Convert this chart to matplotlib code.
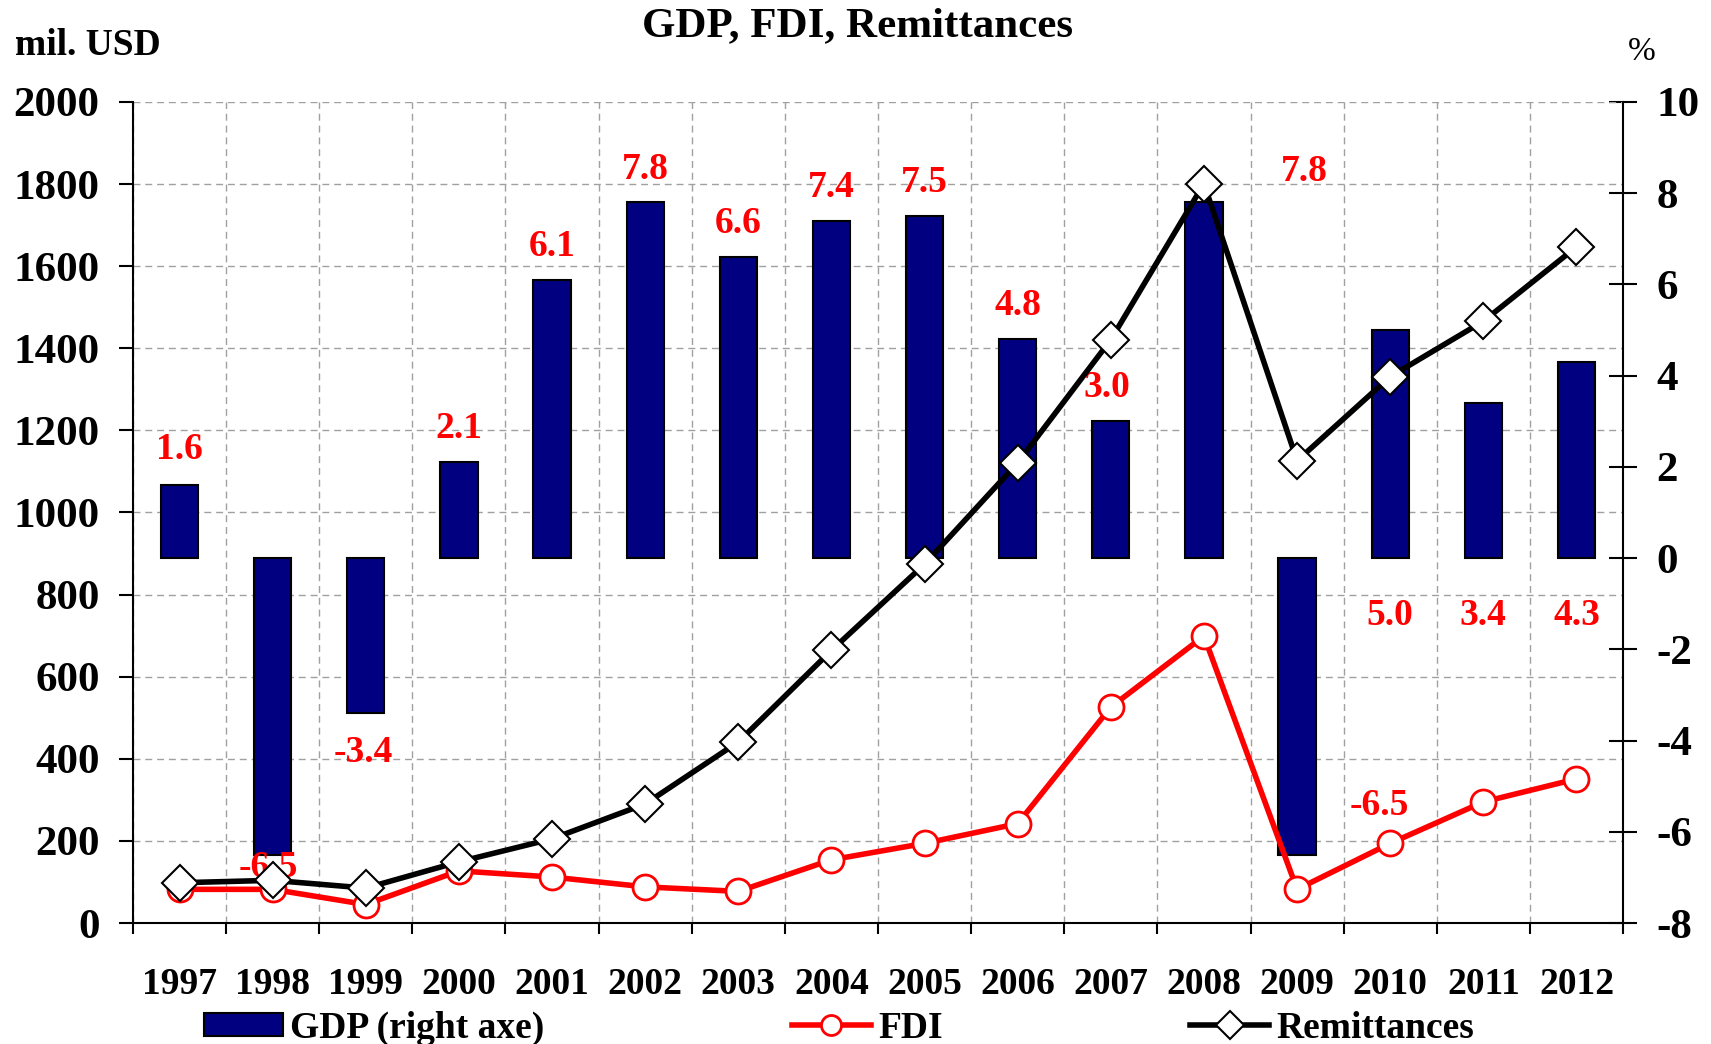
import numpy as np
import matplotlib
matplotlib.use('Agg')
import matplotlib.pyplot as plt

plt.rcParams['font.family'] = ['Liberation Serif', 'DejaVu Serif']
plt.rcParams['font.weight'] = 'bold'
plt.rcParams['axes.unicode_minus'] = False

# data
years = ['1997', '1998', '1999', '2000', '2001', '2002', '2003', '2004',
         '2005', '2006', '2007', '2008', '2009', '2010', '2011', '2012']
gdp_growth = [1.6, -6.5, -3.4, 2.1, 6.1, 7.8, 6.6, 7.4, 7.5, 4.8, 3.0, 7.8, -6.5, 5.0, 3.4, 4.3]
fdi = [82, 82, 45, 127, 112, 88, 77, 154, 194, 242, 526, 699, 82, 194, 295, 351]
remittances = [98, 104, 85, 149, 205, 290, 441, 664, 874, 1121, 1421, 1801, 1126, 1331, 1466, 1647]

# where the red gdp labels sit (offset in points from bar end, or from zero line)
label_offsets = [(0, 26), (-3, -9), (-2, -28), (0, 24), (0, 24), (0, 24), (0, 24), (0, 24),
                 (0, 24), (0, 24), (-3, 24), (72, 22), (59, 35), (0, -41), (0, -41), (0, -41)]
label_at_base = [False] * 13 + [True] * 3

grid_kw = dict(color='#a0a0a0', linestyle=(0, (5, 3.5)), linewidth=1.0)

fig = plt.figure(figsize=(17.11, 10.44), dpi=100)
ax_r = fig.add_axes([0.0777, 0.1159, 0.9486 - 0.0777, 0.9023 - 0.1159])
ax_l = ax_r.twinx()

x = np.arange(len(years))

# GDP bars on the right (%) axis
bars = ax_r.bar(x, gdp_growth, width=0.4, color='#000080', edgecolor='black',
                linewidth=1.5, zorder=2, label='GDP (right axe)')
ax_r.set_xlim(-0.5, len(years) - 0.5)
ax_r.set_ylim(-8, 10)
ax_r.yaxis.tick_right()
ax_r.set_yticks(np.arange(-8, 11, 2))
ax_r.tick_params(axis='y', which='major', direction='inout', length=20, width=1.5,
                 pad=14, labelsize=31)

# horizontal grid follows the left (mil. USD) scale
left_ticks = np.arange(0, 2001, 200)
ax_r.yaxis.remove_overlapping_locs = False
ax_r.set_yticks(-8 + left_ticks * 18 / 2000, minor=True)
ax_r.tick_params(axis='y', which='minor', length=0)
ax_r.grid(axis='y', which='minor', **grid_kw)

ax_r.set_xticks(x)
ax_r.set_xticklabels(years)
ax_r.set_xticks(np.arange(-0.5, len(years)), minor=True)
ax_r.tick_params(axis='x', which='major', length=0, pad=32, labelsize=27)
ax_r.tick_params(axis='x', which='minor', direction='out', length=8, width=1.5)
ax_r.grid(axis='x', which='minor', **grid_kw)
ax_r.set_axisbelow(True)

for s in ['top', 'left']:
    ax_r.spines[s].set_visible(False)
ax_r.spines['right'].set_linewidth(1.5)
ax_r.spines['bottom'].set_linewidth(1.5)

# value labels
for i, v in enumerate(gdp_growth):
    anchor = 0 if label_at_base[i] else v
    ax_r.annotate(f'{v:.1f}', xy=(i, anchor), xytext=label_offsets[i],
                  textcoords='offset points', ha='center', va='center',
                  color='#ff0000', fontsize=27, fontweight='bold', zorder=3)

# FDI and remittances on the left (mil. USD) axis
fdi_line, = ax_l.plot(x, fdi, color='#ff0000', linewidth=4, marker='o', markersize=18,
                      markerfacecolor='white', markeredgecolor='#ff0000', markeredgewidth=2,
                      label='FDI', zorder=3)
rem_line, = ax_l.plot(x, remittances, color='black', linewidth=4, marker='D', markersize=18,
                      markerfacecolor='white', markeredgecolor='black', markeredgewidth=1.5,
                      label='Remittances', zorder=4)
ax_l.set_ylim(0, 2000)
ax_l.yaxis.tick_left()
ax_l.set_yticks(left_ticks)
ax_l.tick_params(axis='y', direction='out', length=10, width=1.5, pad=14, labelsize=31)
for s in ['top', 'right', 'bottom']:
    ax_l.spines[s].set_visible(False)
ax_l.spines['left'].set_linewidth(1.5)

# titles and units
fig.text(0.501, 0.975, 'GDP, FDI, Remittances', ha='center', va='center', fontsize=31)
fig.text(0.0085, 0.956, 'mil. USD', ha='left', va='center', fontsize=27)
fig.text(0.9597, 0.950, '%', ha='center', va='center', fontsize=24, fontweight='normal')

fig.legend(handles=[bars, fdi_line, rem_line],
           labels=['GDP (right axe)', 'FDI', 'Remittances'],
           loc='center', bbox_to_anchor=(0.4905, 0.015), ncol=3, frameon=False,
           fontsize=27, handlelength=2.1, handletextpad=0.2, columnspacing=6.6,
           handleheight=0.55, borderpad=0, markerscale=0.8)

fig.savefig('out.png', dpi=100)
